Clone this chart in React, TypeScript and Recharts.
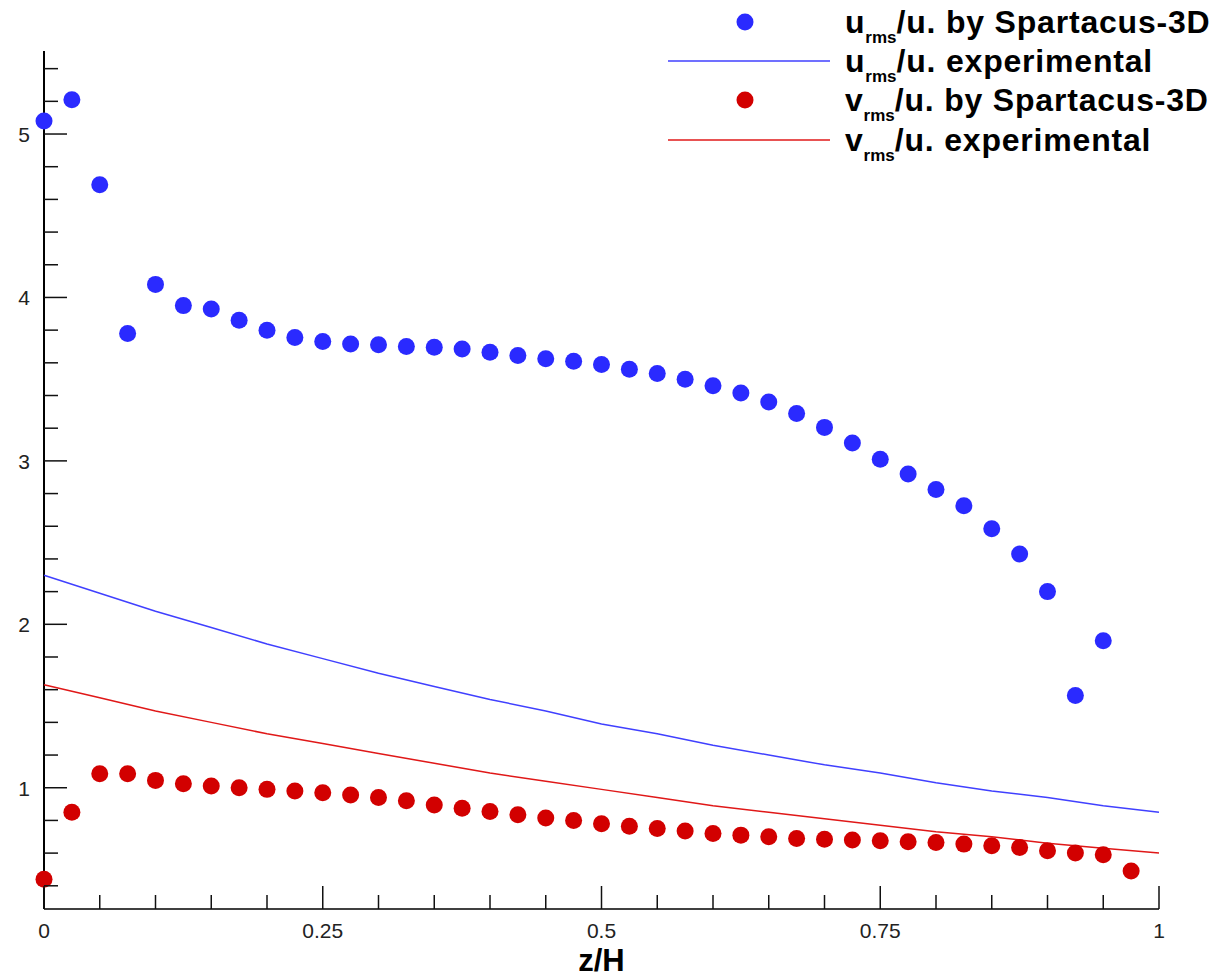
import React from "react";
import { ScatterChart, Scatter, XAxis, YAxis } from "recharts";

// simulation points, z/H every 0.025
const zSim = [
  0, 0.025, 0.05, 0.075, 0.1, 0.125, 0.15, 0.175, 0.2, 0.225, 0.25, 0.275, 0.3, 0.325, 0.35, 0.375, 0.4, 0.425, 0.45,
  0.475, 0.5, 0.525, 0.55, 0.575, 0.6, 0.625, 0.65, 0.675, 0.7, 0.725, 0.75, 0.775, 0.8, 0.825, 0.85, 0.875, 0.9,
  0.925, 0.95, 0.975,
];
const uSim = [
  5.08, 5.21, 4.69, 3.78, 4.08, 3.95, 3.93, 3.86, 3.8, 3.755, 3.73, 3.715, 3.71, 3.7, 3.695, 3.685, 3.665, 3.645,
  3.625, 3.61, 3.59, 3.56, 3.535, 3.5, 3.46, 3.415, 3.36, 3.29, 3.205, 3.11, 3.01, 2.92, 2.825, 2.725, 2.585, 2.43,
  2.2, 1.565, 1.9,
];
const vSim = [
  0.44, 0.85, 1.085, 1.085, 1.045, 1.025, 1.01, 1.0, 0.99, 0.98, 0.97, 0.955, 0.94, 0.92, 0.895, 0.875, 0.855, 0.835,
  0.815, 0.8, 0.78, 0.765, 0.75, 0.735, 0.72, 0.71, 0.7, 0.69, 0.685, 0.68, 0.675, 0.67, 0.665, 0.655, 0.645, 0.635,
  0.615, 0.6, 0.59, 0.49,
];

// experimental curves
const zExp = [0, 0.05, 0.1, 0.15, 0.2, 0.25, 0.3, 0.35, 0.4, 0.45, 0.5, 0.55, 0.6, 0.65, 0.7, 0.75, 0.8, 0.85, 0.9, 0.95, 1];
const uExp = [2.3, 2.19, 2.08, 1.98, 1.88, 1.79, 1.7, 1.62, 1.54, 1.47, 1.39, 1.33, 1.26, 1.2, 1.14, 1.09, 1.03, 0.98, 0.94, 0.89, 0.85];
const vExp = [1.63, 1.55, 1.47, 1.4, 1.33, 1.27, 1.21, 1.15, 1.09, 1.04, 0.99, 0.94, 0.89, 0.85, 0.81, 0.77, 0.73, 0.7, 0.66, 0.63, 0.6];

const xTicks = [0, 0.05, 0.1, 0.15, 0.2, 0.25, 0.3, 0.35, 0.4, 0.45, 0.5, 0.55, 0.6, 0.65, 0.7, 0.75, 0.8, 0.85, 0.9, 0.95, 1];
const yTicks = [
  0.4, 0.6, 0.8, 1, 1.2, 1.4, 1.6, 1.8, 2, 2.2, 2.4, 2.6, 2.8, 3, 3.2, 3.4, 3.6, 3.8, 4, 4.2, 4.4, 4.6, 4.8, 5, 5.2, 5.4,
];

const BLUE = "#2a2aff";
const RED = "#d20000";
const BLUE_LINE = "#4040ff";
const RED_LINE = "#e01818";

const toPts = (zs: number[], vs: number[]) => vs.map((v, i) => ({ z: zs[i], v }));

const isMajorY = (v: number) => Math.abs(v - Math.round(v)) < 1e-6;
const isMajorX = (v: number) => Math.abs(v * 4 - Math.round(v * 4)) < 1e-6;

function XTick(props: any) {
  const { x, y, payload } = props;
  const major = isMajorX(payload.value);
  return (
    <g>
      <line x1={x} y1={y} x2={x} y2={y - (major ? 23 : 14)} stroke="#111" strokeWidth={1.5} />
      {major && (
        <text x={x} y={y + 29} textAnchor="middle" fontSize={21} fill="#222">
          {String(payload.value)}
        </text>
      )}
    </g>
  );
}

function YTick(props: any) {
  const { x, y, payload } = props;
  const major = isMajorY(payload.value);
  return (
    <g>
      <line x1={x} y1={y} x2={x + (major ? 23 : 14)} y2={y} stroke="#111" strokeWidth={1.5} />
      {major && (
        <text x={x - 14} y={y + 8} textAnchor="end" fontSize={21} fill="#222">
          {String(payload.value)}
        </text>
      )}
    </g>
  );
}

const dot = (color: string) => (p: any) => <circle cx={p.cx} cy={p.cy} r={8.5} fill={color} />;
const noDot = () => <g />;

function Label({ sym, rest }: { sym: string; rest: string }) {
  return (
    <span>
      {sym}
      <span style={{ fontSize: 17, position: "relative", top: 10, letterSpacing: 0 }}>rms</span>/u. {rest}
    </span>
  );
}

const legendRows = [
  { kind: "dot", color: BLUE, sym: "u", rest: "by Spartacus-3D", cy: 22 },
  { kind: "line", color: BLUE_LINE, sym: "u", rest: "experimental", cy: 61 },
  { kind: "dot", color: RED, sym: "v", rest: "by Spartacus-3D", cy: 100 },
  { kind: "line", color: RED_LINE, sym: "v", rest: "experimental", cy: 140 },
];

function ChartLegend() {
  return (
    <>
      {legendRows.map((r, i) => (
        <div key={i} style={{ position: "absolute", left: 660, top: r.cy - 20, height: 40, width: 553 }}>
          <svg width={180} height={40} style={{ position: "absolute", left: 0, top: 0 }}>
            {r.kind === "dot" ? (
              <circle cx={85} cy={20} r={8.5} fill={r.color} />
            ) : (
              <line x1={8} y1={20} x2={170} y2={20} stroke={r.color} strokeWidth={1.5} />
            )}
          </svg>
          <div
            style={{
              position: "absolute",
              left: 185,
              top: 0,
              lineHeight: "40px",
              fontSize: 32,
              letterSpacing: 0.8,
              fontWeight: 700,
              color: "#000",
              whiteSpace: "nowrap",
            }}
          >
            <Label sym={r.sym} rest={r.rest} />
          </div>
        </div>
      ))}
    </>
  );
}

export default function App() {
  return (
    <div
      style={{
        position: "absolute",
        left: 0,
        top: 0,
        width: 1213,
        height: 979,
        background: "#fff",
        overflow: "hidden",
        fontFamily: "'Liberation Sans', Arial, sans-serif",
      }}
    >
      <ScatterChart width={1213} height={979} margin={{ top: 51, right: 54, bottom: 0, left: 0 }}>
        <XAxis
          type="number"
          dataKey="z"
          domain={[0, 1]}
          ticks={xTicks}
          interval={0}
          height={70}
          tickSize={0}
          tickMargin={0}
          tickLine={false}
          axisLine={{ stroke: "#000", strokeWidth: 1.5 }}
          tick={(p: any) => <XTick {...p} />}
          label={{ value: "z/H", position: "insideBottom", offset: 8, style: { fontSize: 31, fontWeight: 700, fill: "#000" } }}
        />
        <YAxis
          type="number"
          dataKey="v"
          domain={[0.258, 5.508]}
          allowDataOverflow
          ticks={yTicks}
          interval={0}
          width={44}
          tickSize={0}
          tickMargin={0}
          tickLine={false}
          axisLine={{ stroke: "#000", strokeWidth: 2 }}
          tick={(p: any) => <YTick {...p} />}
        />
        <Scatter data={toPts(zExp, uExp)} line={{ stroke: BLUE_LINE, strokeWidth: 1.5 }} lineType="joint" shape={noDot} isAnimationActive={false} />
        <Scatter data={toPts(zExp, vExp)} line={{ stroke: RED_LINE, strokeWidth: 1.5 }} lineType="joint" shape={noDot} isAnimationActive={false} />
        <Scatter data={toPts(zSim, uSim)} shape={dot(BLUE)} isAnimationActive={false} />
        <Scatter data={toPts(zSim, vSim)} shape={dot(RED)} isAnimationActive={false} />
      </ScatterChart>
      <ChartLegend />
    </div>
  );
}
